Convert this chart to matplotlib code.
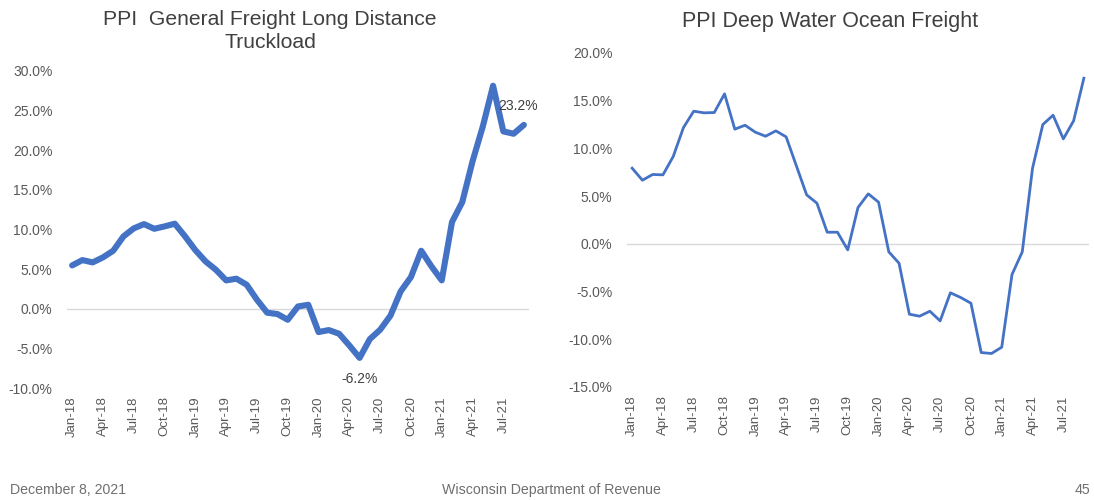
import matplotlib
matplotlib.use("Agg")
import matplotlib.pyplot as plt
import numpy as np

plt.rcParams['font.family'] = ['Liberation Sans', 'DejaVu Sans']

months = ['Jan', 'Feb', 'Mar', 'Apr', 'May', 'Jun', 'Jul', 'Aug', 'Sep', 'Oct', 'Nov', 'Dec']
dates = [f"{m}-{y}" for y in ['18', '19', '20', '21'] for m in months][:45]

truckload = [5.47, 6.14, 5.85, 6.48, 7.32, 9.13, 10.14, 10.68, 10.09, 10.39, 10.73, 9.13,
             7.40, 5.97, 4.92, 3.58, 3.79, 3.03, 1.14, -0.50, -0.67, -1.39, 0.29, 0.50,
             -2.94, -2.69, -3.15, -4.63, -6.2, -3.83, -2.65, -0.88, 2.19, 4.0, 7.32, 5.34,
             3.58, 10.94, 13.46, 18.6, 23.0, 28.14, 22.38, 22.08, 23.2]

ocean = [7.93, 6.67, 7.27, 7.23, 9.15, 12.19, 13.90, 13.73, 13.76, 15.72, 12.02, 12.43,
         11.70, 11.28, 11.84, 11.21, 8.17, 5.13, 4.26, 1.22, 1.22, -0.63, 3.81, 5.24,
         4.37, -0.84, -2.03, -7.37, -7.58, -7.06, -8.07, -5.13, -5.62, -6.22, -11.39, -11.49,
         -10.83, -3.21, -0.84, 7.93, 12.50, 13.48, 11.0, 12.89, 17.36]

left_ticks = [30, 25, 20, 15, 10, 5, 0, -5, -10]
right_ticks = [20, 15, 10, 5, 0, -5, -10, -15]

title_left = "PPI  General Freight Long Distance\nTruckload"
title_right = "PPI Deep Water Ocean Freight"

W, H = 1094, 500
fig = plt.figure(figsize=(W / 100, H / 100), dpi=100)

blue = '#4472C4'
tick_col = '#595959'
grid_col = '#D9D9D9'

def setup(ax, yt, lo, hi):
    x = np.arange(len(dates))
    ax.set_xlim(-0.5, len(dates) - 0.5)
    ax.set_ylim(lo, hi)
    ax.set_yticks(yt)
    ax.set_yticklabels([f"{v:.1f}%" for v in yt])
    ax.set_xticks(x[::3])
    ax.set_xticklabels([dates[i] for i in x[::3]], rotation=90)
    ax.axhline(0, color=grid_col, lw=1.0, zorder=1)
    for s in ax.spines.values():
        s.set_visible(False)
    ax.tick_params(length=0, colors=tick_col)
    ax.tick_params(axis='y', pad=10.5, labelsize=10)
    ax.tick_params(axis='x', pad=6, labelsize=9.5)
    return x

ax1 = fig.add_axes([67 / W, 1 - 388 / H, 462 / W, (388 - 71) / H])
x = setup(ax1, left_ticks, -10, 30)
ax1.plot(x, truckload, color=blue, lw=4.4, solid_joinstyle='round', solid_capstyle='round', zorder=3)
ax1.annotate(f"{truckload[-1]:.1f}%", (x[-1], truckload[-1]), xytext=(-4, 13.5),
             textcoords='offset points', ha='center', va='center', fontsize=10, color='#404040')
imin = int(np.argmin(truckload))
ax1.annotate(f"{truckload[imin]:.1f}%", (x[imin], truckload[imin]), xytext=(0, -15),
             textcoords='offset points', ha='center', va='center', fontsize=10, color='#404040')
fig.text(270 / W, 1 - 31 / H, title_left, ha='center', va='center', fontsize=15.2,
         color='#404040', linespacing=1.25)

ax2 = fig.add_axes([627 / W, 1 - 387 / H, 462 / W, (387 - 53) / H])
x = setup(ax2, right_ticks, -15, 20)
ax2.plot(x, ocean, color=blue, lw=2.0, solid_joinstyle='round', zorder=3)
fig.text(830 / W, 1 - 21 / H, title_right, ha='center', va='center', fontsize=15.5, color='#404040')

fig.text(10 / W, 1 - 490 / H, "December 8, 2021", ha='left', va='center', fontsize=10.2, color='#6F6F6F')
fig.text(551 / W, 1 - 490 / H, "Wisconsin Department of Revenue", ha='center', va='center', fontsize=10.2, color='#6F6F6F')
fig.text(1090 / W, 1 - 490 / H, "45", ha='right', va='center', fontsize=10.2, color='#6F6F6F')

fig.savefig('out.png', dpi=100, facecolor='white')
